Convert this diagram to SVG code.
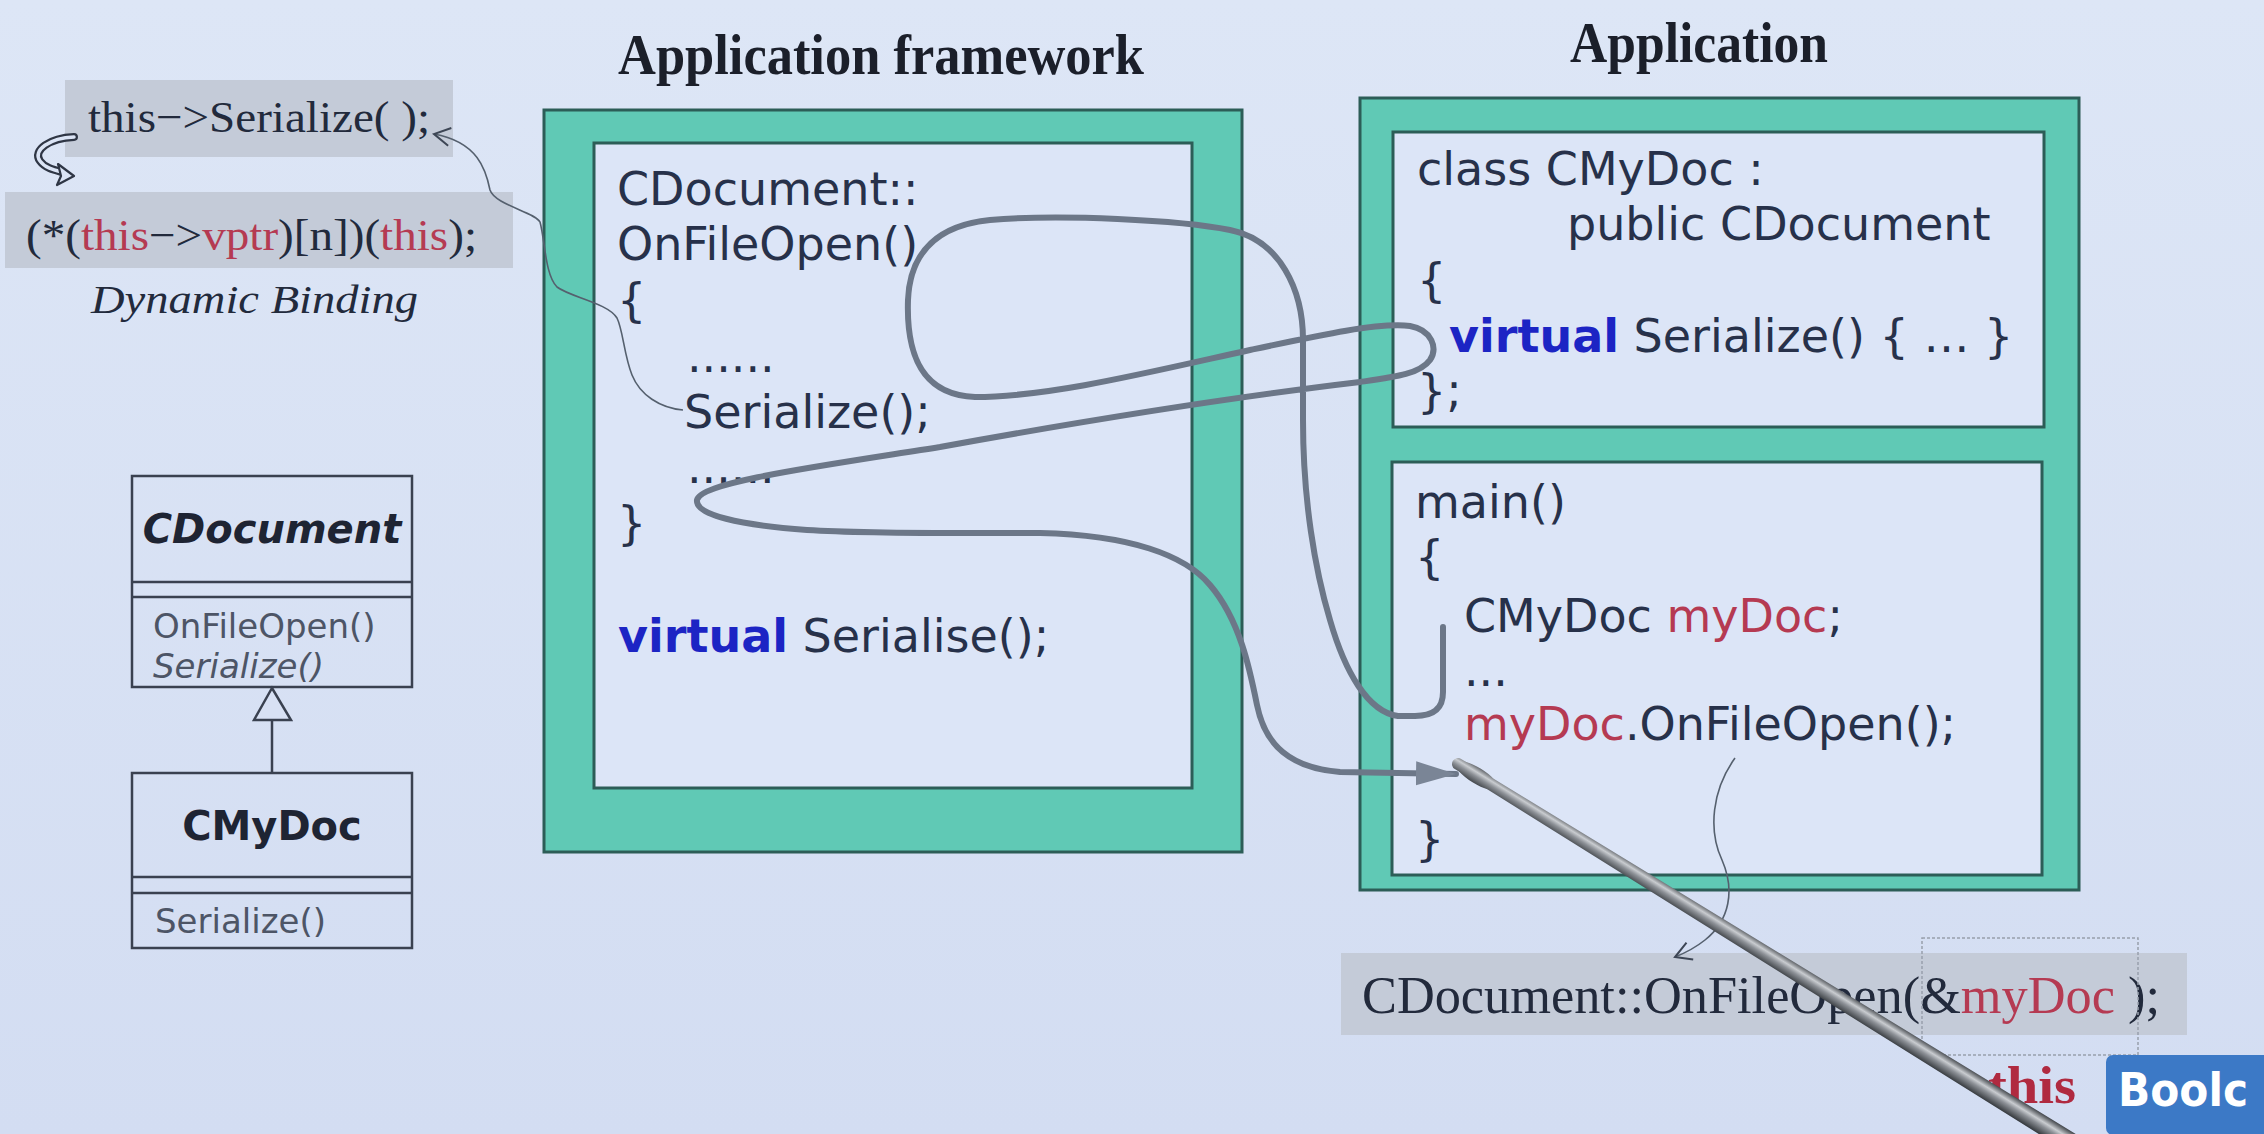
<svg xmlns="http://www.w3.org/2000/svg" width="2264" height="1134" viewBox="0 0 2264 1134">
  <defs>
    <linearGradient id="bg" x1="0" y1="0" x2="0" y2="1">
      <stop offset="0" stop-color="#dde6f6"/>
      <stop offset="1" stop-color="#d3ddf2"/>
    </linearGradient>
    <linearGradient id="rod" gradientUnits="userSpaceOnUse" x1="0" y1="-10" x2="0" y2="10">
      <stop offset="0" stop-color="#3b3f44"/>
      <stop offset="0.35" stop-color="#c9ccd0"/>
      <stop offset="0.55" stop-color="#8d9197"/>
      <stop offset="1" stop-color="#2e3236"/>
    </linearGradient>
    <marker id="headFill" markerUnits="userSpaceOnUse" markerWidth="44" markerHeight="28" refX="40" refY="14" orient="auto">
      <path d="M0,2 L40,14 L0,26 Z" fill="#7a8596"/>
    </marker>
    <marker id="headOpen" markerUnits="userSpaceOnUse" markerWidth="24" markerHeight="24" refX="20" refY="12" orient="auto">
      <path d="M4,3 L20,12 L4,21" fill="none" stroke="#3d4655" stroke-width="2"/>
    </marker>
  </defs>
  <style>
    .code{font-family:"DejaVu Sans",Verdana,sans-serif;font-size:46px;fill:#27314a}
    .kw{font-weight:bold;fill:#1c24c4}
    .var{fill:#b53a52}
    .serif{font-family:"Liberation Serif","Times New Roman",serif;fill:#222a3c}
    .accent{fill:#b02a40}
    .title{font-family:"Liberation Serif","Times New Roman",serif;font-weight:bold;font-size:56px;fill:#1b1f2a}
    .frame{fill:#60c9b5;stroke:#2c5d57;stroke-width:3}
    .panel{fill:#dce5f7;stroke:#2c5d57;stroke-width:3}
    .flow{fill:none;stroke:#6c7788;stroke-width:6;stroke-linecap:round;stroke-linejoin:round}
    .thin{fill:none;stroke:#55606e;stroke-width:1.6}
    .uml{fill:none;stroke:#3a4150;stroke-width:2.5}
    .umltxt{font-family:"DejaVu Sans",Verdana,sans-serif;font-size:34px;fill:#4d5566}
    .umlname{font-family:"DejaVu Sans",Verdana,sans-serif;font-size:40px;font-weight:bold;fill:#1e2433}
    .hl{fill:#c4cbd8}
  </style>

  <rect width="2264" height="1134" fill="url(#bg)"/>

  <!-- section titles -->
  <text class="title" x="618" y="74" textLength="526" lengthAdjust="spacingAndGlyphs">Application framework</text>
  <text class="title" x="1570" y="62" textLength="258" lengthAdjust="spacingAndGlyphs">Application</text>

  <!-- dynamic binding note -->
  <g id="binding">
    <rect class="hl" x="65" y="80" width="388" height="77"/>
    <rect class="hl" x="5" y="192" width="508" height="76"/>
    <text class="serif" x="88" y="132" font-size="44" textLength="342" lengthAdjust="spacingAndGlyphs">this−&gt;Serialize( );</text>
    <text class="serif" x="26" y="250" font-size="44" textLength="451" lengthAdjust="spacingAndGlyphs">(*(<tspan class="var">this</tspan>−&gt;<tspan class="var">vptr</tspan>)[n])(<tspan class="var">this</tspan>);</text>
    <text class="serif" x="91" y="313" font-size="40" font-style="italic" textLength="327" lengthAdjust="spacingAndGlyphs">Dynamic Binding</text>
    <!-- hollow curled arrow between the two lines -->
    <path d="M74,137 C50,138 32,150 40,161 C45,168 54,170 62,172" fill="none" stroke="#2f3645" stroke-width="8" stroke-linecap="round"/>
    <path d="M74,137 C50,138 32,150 40,161 C45,168 54,170 62,172" fill="none" stroke="#dbe4f5" stroke-width="3.5" stroke-linecap="round"/>
    <path d="M58,164 L74,176 L57,185 L61,176 Z" fill="#dbe4f5" stroke="#2f3645" stroke-width="2.2" stroke-linejoin="round"/>
  </g>

  <!-- UML class diagram -->
  <g id="uml-cdocument">
    <rect class="uml" x="132" y="476" width="280" height="211"/>
    <line class="uml" x1="132" y1="582" x2="412" y2="582"/>
    <line class="uml" x1="132" y1="597" x2="412" y2="597"/>
    <text class="umlname" x="272" y="543" text-anchor="middle" font-style="italic">CDocument</text>
    <text class="umltxt" x="153" y="638">OnFileOpen()</text>
    <text class="umltxt" x="153" y="678" font-style="italic">Serialize()</text>
  </g>
  <g id="uml-cmydoc">
    <rect class="uml" x="132" y="773" width="280" height="175"/>
    <line class="uml" x1="132" y1="877" x2="412" y2="877"/>
    <line class="uml" x1="132" y1="893" x2="412" y2="893"/>
    <text class="umlname" x="272" y="840" text-anchor="middle">CMyDoc</text>
    <text class="umltxt" x="155" y="933">Serialize()</text>
  </g>
  <g id="uml-inherit">
    <line class="uml" x1="272" y1="720" x2="272" y2="773"/>
    <path d="M272,688 L254,720 L291,720 Z" fill="#d8e1f4" stroke="#3a4150" stroke-width="2.5"/>
  </g>

  <!-- application framework panel -->
  <g id="framework">
    <rect class="frame" x="544" y="110" width="698" height="742"/>
    <rect class="panel" x="594" y="143" width="598" height="645"/>
    <text class="code" x="617" y="205">CDocument::</text>
    <text class="code" x="617" y="260">OnFileOpen()</text>
    <text class="code" x="617" y="316">{</text>
    <text class="code" x="687" y="372">......</text>
    <text class="code" x="684" y="428">Serialize();</text>
    <text class="code" x="687" y="483">......</text>
    <text class="code" x="617" y="539">}</text>
    <text class="code" x="618" y="652"><tspan class="kw">virtual</tspan> Serialise();</text>
  </g>

  <!-- application panel -->
  <g id="application">
    <rect class="frame" x="1360" y="98" width="719" height="792"/>
    <g id="class-cmydoc">
      <rect class="panel" x="1393" y="132" width="651" height="295"/>
      <text class="code" x="1417" y="185">class CMyDoc :</text>
      <text class="code" x="1567" y="240">public CDocument</text>
      <text class="code" x="1417" y="296">{</text>
      <text class="code" x="1449" y="352"><tspan class="kw">virtual</tspan> Serialize() { … }</text>
      <text class="code" x="1417" y="407">};</text>
    </g>
    <g id="main-func">
      <rect class="panel" x="1392" y="462" width="650" height="413"/>
      <text class="code" x="1415" y="518">main()</text>
      <text class="code" x="1415" y="573">{</text>
      <text class="code" x="1464" y="632">CMyDoc <tspan class="var">myDoc</tspan>;</text>
      <text class="code" x="1464" y="686">...</text>
      <text class="code" x="1464" y="740"><tspan class="var">myDoc</tspan>.OnFileOpen();</text>
      <text class="code" x="1415" y="855">}</text>
    </g>
  </g>

  <!-- expanded call -->
  <g id="expanded-call">
    <rect class="hl" x="1341" y="953" width="846" height="82"/>
    <text class="serif" x="1362" y="1013" font-size="52" textLength="798" lengthAdjust="spacingAndGlyphs">CDocument::OnFileOpen(&amp;<tspan class="var">myDoc</tspan> );</text>
    <rect x="1922" y="938" width="216" height="117" fill="none" stroke="#98a0ac" stroke-width="1.5" stroke-dasharray="3 2"/>
    <text class="serif accent" x="1988" y="1103" font-size="52" font-weight="bold" textLength="88" lengthAdjust="spacingAndGlyphs">this</text>
    <rect x="2106" y="1055" width="180" height="80" rx="7" fill="#3c79c6"/>
    <text x="2118" y="1106" font-family="'DejaVu Sans',Verdana,sans-serif" font-size="46" font-weight="bold" fill="#ffffff" textLength="130" lengthAdjust="spacingAndGlyphs">Boolc</text>
  </g>

  <!-- connectors -->
  <g id="connectors">
    <path class="flow" marker-end="url(#headFill)" d="M1443,627 L1443,692 C1443,710 1432,716 1415,716 L1398,716 C1368,712 1345,672 1330,620 C1315,570 1303,500 1303,420 L1303,340 C1303,290 1280,240 1230,230 C1180,220 1060,214 990,220 C940,225 910,250 908,300 C906,360 925,395 975,397 C1050,397 1150,372 1250,350 C1320,335 1380,322 1410,326 C1432,330 1438,348 1430,360 C1420,374 1395,377 1360,382 C1250,395 1100,418 940,447 C820,466 700,482 697,500 C695,515 740,525 807,530 C870,534 960,533 1040,533 C1130,535 1185,555 1210,585 C1240,620 1250,670 1257,705 C1265,745 1290,768 1340,772 L1456,774"/>
    <path class="thin" marker-end="url(#headOpen)" d="M683,410 C660,408 640,395 632,375 C624,355 623,330 617,318 C608,303 570,297 557,287 C545,275 545,240 540,222 C535,212 495,205 490,190 C486,170 478,142 434,134"/>
    <path class="thin" marker-end="url(#headOpen)" d="M1735,758 C1712,790 1708,830 1722,860 C1735,890 1730,920 1705,940 C1695,948 1685,953 1675,957"/>
  </g>

  <!-- pointer rod in front of the slide -->
  <g id="pointer" transform="translate(1458,764) rotate(31.7)">
    <path d="M0,-6 L760,-10 L760,10 L0,6 A6,6 0 0 1 0,-6 Z" fill="url(#rod)"/>
    <ellipse cx="22" cy="0" rx="24" ry="8" fill="url(#rod)"/>
  </g>
</svg>
